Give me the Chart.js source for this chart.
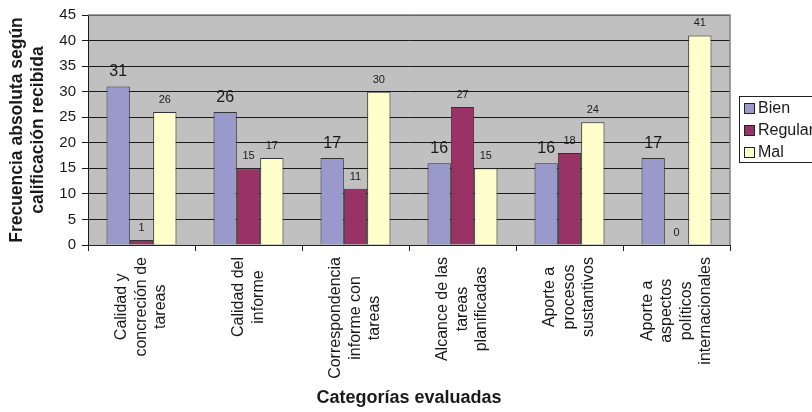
<!DOCTYPE html>
<html>
<head>
<meta charset="utf-8">
<script src="https://cdn.jsdelivr.net/npm/chart.js@4/dist/chart.umd.min.js"></script>
<style>
  body { margin: 0; background: #fff; }
  canvas { display: block; }
</style>
</head>
<body>
<canvas id="chart" width="812" height="412"></canvas>
<script>
const categories = [
  ['Calidad y', 'concreción de', 'tareas'],
  ['Calidad del', 'informe'],
  ['Correspondencia', 'informe con', 'tareas'],
  ['Alcance de las', 'tareas', 'planificadas'],
  ['Aporte a', 'procesos', 'sustantivos'],
  ['Aporte a', 'aspectos', 'políticos', 'internacionales']
];
const bien = [31, 26, 17, 16, 16, 17];
const regular = [1, 15, 11, 27, 18, 0];
const mal = [26, 17, 30, 15, 24, 41];

const FONT = '"Liberation Sans", Arial, sans-serif';
const INK = '#1a1a1a';

// grey plot background and frame, like the old spreadsheet look
const plotArea = {
  id: 'plotArea',
  beforeDraw(chart) {
    const { ctx, chartArea: a } = chart;
    ctx.save();
    ctx.fillStyle = '#c0c0c0';
    ctx.fillRect(a.left, a.top, a.width, a.height);
    ctx.restore();
  },
  afterDraw(chart) {
    const { ctx, chartArea: a } = chart;
    ctx.save();
    ctx.strokeStyle = '#808080';
    ctx.lineWidth = 1.5;
    ctx.beginPath();
    ctx.moveTo(a.left, a.top);
    ctx.lineTo(a.right, a.top);
    ctx.lineTo(a.right, a.bottom);
    ctx.stroke();
    ctx.restore();
  }
};

// value above every bar; the first series gets the bigger font
const barValues = {
  id: 'barValues',
  afterDatasetsDraw(chart) {
    const { ctx } = chart;
    ctx.save();
    ctx.fillStyle = INK;
    ctx.textAlign = 'center';
    ctx.textBaseline = 'middle';
    chart.data.datasets.forEach((ds, i) => {
      const big = i === 0;
      ctx.font = (big ? 16 : 11) + 'px ' + FONT;
      chart.getDatasetMeta(i).data.forEach((bar, j) => {
        ctx.fillText(ds.data[j], bar.x, bar.y - (big ? 15 : 12));
      });
    });
    ctx.restore();
  }
};

// rotated category names, lines centred on each other
const categoryLabels = {
  id: 'categoryLabels',
  afterDraw(chart) {
    const { ctx } = chart;
    const x = chart.scales.x;
    ctx.save();
    ctx.font = '16px ' + FONT;
    ctx.fillStyle = INK;
    ctx.textAlign = 'center';
    ctx.textBaseline = 'middle';
    categories.forEach((lines, i) => {
      const w = Math.max(...lines.map(l => ctx.measureText(l).width));
      ctx.save();
      ctx.translate(x.getPixelForValue(i), x.top + 12 + w / 2);
      ctx.rotate(-Math.PI / 2);
      lines.forEach((l, k) => {
        ctx.fillText(l, 0, (k - (lines.length - 1) / 2) * 19.5);
      });
      ctx.restore();
    });
    ctx.restore();
  }
};

// boxed legend to the right of the plot
const boxLegend = {
  id: 'boxLegend',
  afterDraw(chart) {
    const { ctx, chartArea: a } = chart;
    const left = a.right + 9, top = 96;
    ctx.save();
    ctx.fillStyle = '#fff';
    ctx.fillRect(left, top, 90, 66);
    ctx.strokeStyle = '#222';
    ctx.lineWidth = 1;
    ctx.strokeRect(left + 0.5, top + 0.5, 90, 66);
    ctx.font = '16px ' + FONT;
    ctx.textBaseline = 'middle';
    chart.data.datasets.forEach((ds, i) => {
      const cy = top + 12 + i * 22;
      ctx.fillStyle = ds.backgroundColor;
      ctx.fillRect(left + 5, cy - 5, 10, 10);
      ctx.strokeStyle = '#222';
      ctx.strokeRect(left + 5.5, cy - 4.5, 10, 10);
      ctx.fillStyle = INK;
      ctx.fillText(ds.label, left + 19, cy + 1);
    });
    ctx.restore();
  }
};

const barStyle = { borderColor: '#333', borderWidth: 1, categoryPercentage: 0.654, barPercentage: 1 };

new Chart(document.getElementById('chart'), {
  type: 'bar',
  data: {
    labels: categories,
    datasets: [
      { label: 'Bien', data: bien, backgroundColor: '#9999cc', ...barStyle },
      { label: 'Regular', data: regular, backgroundColor: '#993366', ...barStyle },
      { label: 'Mal', data: mal, backgroundColor: '#ffffcc', ...barStyle }
    ]
  },
  options: {
    responsive: false,
    animation: false,
    layout: { padding: { top: 14, right: 82, bottom: 0, left: 0 } },
    plugins: { legend: { display: false }, tooltip: { enabled: false } },
    scales: {
      x: {
        grid: { offset: true, drawOnChartArea: false, drawTicks: true, tickLength: 6, color: '#222' },
        border: { color: '#222', width: 1 },
        ticks: { display: false },
        title: {
          display: true,
          text: 'Categorías evaluadas',
          color: INK,
          font: { family: FONT, size: 18, weight: 'bold' },
          padding: { top: 4, bottom: 3 }
        },
        afterFit(scale) { scale.height = 167; }
      },
      y: {
        min: 0,
        max: 45,
        ticks: { stepSize: 5, color: INK, padding: 6, font: { family: FONT, size: 15 } },
        grid: { color: '#1a1a1a', tickLength: 6 },
        border: { color: '#1a1a1a', width: 1 },
        title: {
          display: true,
          text: ['Frecuencia absoluta según', 'calificación recibida'],
          color: INK,
          font: { family: FONT, size: 17.5, weight: 'bold', lineHeight: 1.2 },
          padding: { top: 7, bottom: 0 }
        },
        afterFit(scale) { scale.width = 88; }
      }
    }
  },
  plugins: [plotArea, barValues, categoryLabels, boxLegend]
});
</script>
</body>
</html>
